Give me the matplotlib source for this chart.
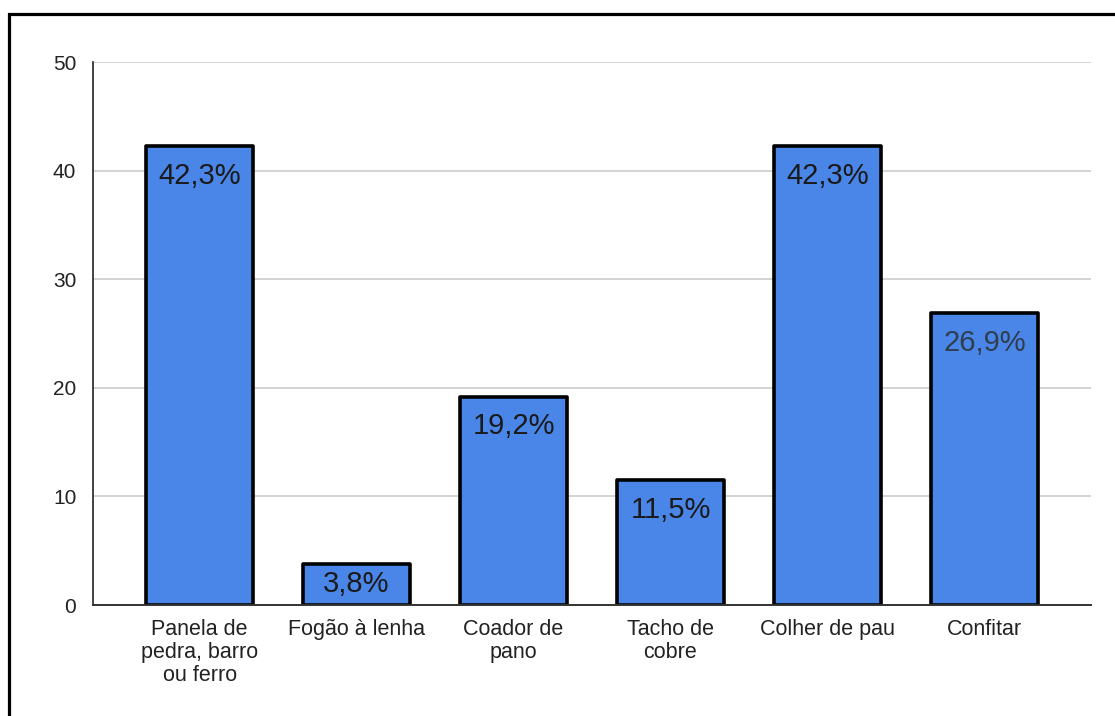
import matplotlib.pyplot as plt
from matplotlib.patches import Rectangle

plt.rcParams['font.family'] = ['Liberation Sans', 'DejaVu Sans']

categorias = ['Panela de\npedra, barro\nou ferro', 'Fogão à lenha', 'Coador de\npano',
              'Tacho de\ncobre', 'Colher de pau', 'Confitar']
valores = [42.3, 3.8, 19.2, 11.5, 42.3, 26.9]
rotulos = ['42,3%', '3,8%', '19,2%', '11,5%', '42,3%', '26,9%']
cores_rotulo = ['#1a1a1a', '#1a1a1a', '#1a1a1a', '#1a1a1a', '#1a1a1a', '#2f3e4e']
y_ticks = [0, 10, 20, 30, 40, 50]

fig = plt.figure(figsize=(11.15, 7.16), dpi=100)
ax = fig.add_axes([0.0834, 0.155, 0.8951, 0.758])

x = range(len(categorias))
barras = ax.bar(x, valores, width=0.68, color='#4a86e8', edgecolor='black',
                linewidth=2.6, zorder=3)
for b in barras:
    b.set_joinstyle('round')

ax.set_xlim(-0.68, len(categorias) - 1 + 0.68)
ax.set_ylim(0, 50)

# rótulo perto do topo; em barras baixas fica no meio da barra
for b, txt, cor in zip(barras, rotulos, cores_rotulo):
    topo = ax.transData.transform((0, b.get_height()))[1]
    base = ax.transData.transform((0, 0))[1]
    meio_pt = (topo - base) / 2 * 72 / fig.dpi
    desloc = min(21.5, meio_pt)
    ax.annotate(txt, (b.get_x() + b.get_width() / 2, b.get_height()),
                xytext=(0, -desloc), textcoords='offset points',
                ha='center', va='center', fontsize=21, color=cor, zorder=4)

ax.set_yticks(y_ticks)
ax.set_xticks(list(x))
ax.set_xticklabels(categorias, fontsize=15.5, color='#222222', linespacing=1.12)
ax.tick_params(axis='y', length=0, pad=12, labelsize=15, labelcolor='#222222')
ax.tick_params(axis='x', length=0, pad=10)
ax.grid(axis='y', color='#cccccc', linewidth=1.2, zorder=0)

for s in ['top', 'right']:
    ax.spines[s].set_visible(False)
ax.spines['left'].set_color('#222222')
ax.spines['left'].set_linewidth(1.2)
ax.spines['bottom'].set_color('#333333')
ax.spines['bottom'].set_linewidth(1.4)
ax.spines['bottom'].set_zorder(5)

# moldura preta em volta do gráfico
fig.patches.append(Rectangle((8.5 / 1115, -0.1), 1.2, 1 - 14.5 / 716 + 0.1,
                             transform=fig.transFigure, fill=False,
                             edgecolor='black', linewidth=2.3))

fig.savefig('out.png', dpi=100)
